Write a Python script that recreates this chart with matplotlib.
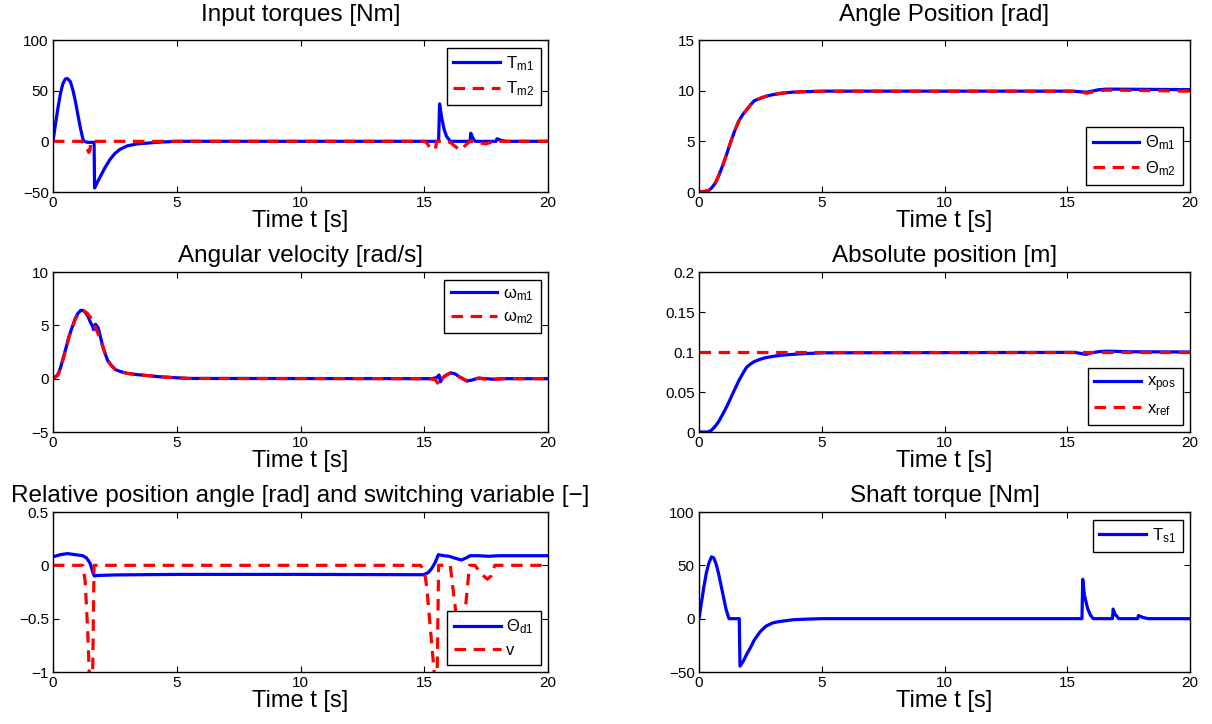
import numpy as np
import matplotlib
matplotlib.use('Agg')
import matplotlib.pyplot as plt
from matplotlib.ticker import FuncFormatter

plt.rcParams['font.family'] = ['Liberation Sans', 'DejaVu Sans']
plt.rcParams['mathtext.fontset'] = 'custom'
plt.rcParams['mathtext.rm'] = 'Liberation Sans'

# ---- data ----
# input torques
t_tm1 = [0, 0.1, 0.2, 0.3, 0.4, 0.5, 0.58, 0.7, 0.8, 0.9, 1.0, 1.1, 1.2, 1.25, 1.4, 1.66, 1.68,
         1.8, 1.95, 2.1, 2.3, 2.5, 2.7, 3.0, 3.4, 3.8, 4.3, 5.0, 15.58, 15.62, 15.7, 15.8, 15.9,
         16.05, 16.85, 16.88, 16.95, 17.05, 17.9, 17.94, 18.1, 18.3, 20]
T_m1 = [0, 17, 33, 47, 57, 61.5, 62, 59, 51, 40, 27, 14, 3, 0, -1, -1, -46,
        -40, -33, -26, -18, -12, -8, -4.5, -2.5, -1.8, -0.8, 0, 0, 37, 24, 12, 5,
        0, 0, 8, 4, 0, 0, 2.5, 1, 0, 0]
t_tm2 = [0, 1.15, 1.25, 1.35, 1.45, 1.5, 1.52, 15.0, 15.1, 15.2, 15.35, 15.45, 15.5, 15.95,
         16.1, 16.3, 16.45, 16.55, 16.7, 16.85, 17.2, 17.5, 17.8, 20]
T_m2 = [0, 0, -2, -6, -11, -8, 0, 0, -1.5, -5, -8, -8, 0, 0,
        -2, -6, -8.5, -7, -3, 0, -1.5, -2.5, 0, 0]

# angle position
t_th = [0, 0.35, 0.5, 0.67, 0.8, 0.98, 1.15, 1.3, 1.45, 1.62, 1.8, 1.94, 2.1, 2.25, 2.5, 2.73,
        3.0, 3.37, 3.8, 4.3, 5.1, 15.2, 15.5, 15.8, 16.0, 16.3, 16.6, 17.0, 20]
th_m1 = [0, 0.1, 0.35, 0.9, 1.6, 2.7, 3.9, 5.0, 6.0, 7.0, 7.7, 8.1, 8.6, 9.0, 9.25, 9.45,
         9.6, 9.75, 9.85, 9.9, 9.95, 9.95, 9.9, 9.85, 9.95, 10.1, 10.15, 10.15, 10.1]
th_m2 = [0, 0.1, 0.35, 0.9, 1.6, 2.7, 3.9, 5.0, 6.0, 7.0, 7.7, 8.1, 8.6, 9.0, 9.25, 9.45,
         9.6, 9.75, 9.85, 9.9, 9.95, 9.95, 9.9, 9.75, 9.85, 10.0, 10.05, 10.05, 9.95]

# angular velocity
t_w1 = [0, 0.19, 0.3, 0.42, 0.55, 0.65, 0.8, 0.89, 1.0, 1.12, 1.22, 1.31, 1.42, 1.51, 1.6,
        1.64, 1.68, 1.72, 1.82, 1.9, 1.98, 2.1, 2.21, 2.35, 2.52, 2.75, 2.99, 3.4, 3.77, 4.3,
        4.86, 5.5, 15.3, 15.5, 15.6, 15.65, 15.75, 15.9, 16.07, 16.25, 16.4, 16.55, 16.7, 16.9,
        17.2, 17.5, 17.8, 18.2, 20]
w_m1 = [0, 0.36, 1.0, 2.0, 3.1, 4.0, 5.0, 5.6, 6.1, 6.4, 6.4, 6.2, 5.8, 5.3, 4.9,
        4.6, 5.0, 5.1, 4.8, 4.1, 3.3, 2.4, 1.7, 1.25, 0.85, 0.65, 0.5, 0.38, 0.3, 0.18,
        0.1, 0.02, 0, 0.1, 0.35, -0.3, 0.1, 0.35, 0.55, 0.45, 0.2, 0, -0.2, -0.15,
        0.05, 0, -0.05, 0, 0]
t_w2 = [0, 0.19, 0.3, 0.42, 0.55, 0.65, 0.8, 0.89, 1.0, 1.12, 1.25, 1.38, 1.5, 1.62, 1.75,
        1.88, 1.98, 2.1, 2.21, 2.35, 2.52, 2.75, 2.99, 3.4, 3.77, 4.3, 4.86, 5.5, 15.2, 15.45,
        15.6, 15.65, 15.75, 15.9, 16.07, 16.25, 16.4, 16.55, 16.75, 16.9, 17.2, 17.6, 17.9,
        18.2, 20]
w_m2 = [0, 0.3, 0.9, 1.9, 3.0, 3.9, 4.9, 5.5, 6.0, 6.3, 6.35, 6.15, 5.8, 5.3, 4.6,
        3.9, 3.2, 2.4, 1.7, 1.25, 0.85, 0.65, 0.5, 0.38, 0.3, 0.18, 0.1, 0.02, 0, -0.1,
        -0.6, -0.2, 0.1, 0.35, 0.55, 0.45, 0.2, 0, -0.25, -0.1, 0.05, -0.1, -0.05,
        0, 0]

# absolute position
t_x = [0, 0.35, 0.5, 0.67, 0.8, 0.98, 1.15, 1.3, 1.45, 1.62, 1.8, 1.94, 2.1, 2.25, 2.5, 2.73,
       3.0, 3.37, 3.8, 4.3, 5.1, 15.3, 15.5, 15.75, 16.0, 16.3, 16.6, 17.0, 17.5, 20]
x_pos = [0, 0, 0.002, 0.0075, 0.013, 0.023, 0.033, 0.043, 0.053, 0.064, 0.074, 0.081, 0.085,
         0.088, 0.091, 0.093, 0.0945, 0.096, 0.097, 0.098, 0.099, 0.0995, 0.0985, 0.097,
         0.099, 0.1005, 0.101, 0.1008, 0.1003, 0.1]
t_ref = [0, 20]
x_ref = [0.1, 0.1]

# relative position angle / switching variable
t_thd = [0, 0.3, 0.58, 0.9, 1.2, 1.35, 1.5, 1.6, 1.67, 1.8, 2.5, 5, 10, 14.96, 15.15, 15.3,
         15.45, 15.57, 15.8, 16.0, 16.2, 16.5, 16.7, 16.85, 17.2, 17.6, 18.0, 20]
th_d1 = [0.08, 0.1, 0.11, 0.1, 0.09, 0.07, 0.02, -0.06, -0.1, -0.095, -0.09, -0.085, -0.085,
         -0.088, -0.07, -0.03, 0.03, 0.1, 0.09, 0.085, 0.07, 0.05, 0.07, 0.09, 0.09, 0.085,
         0.09, 0.09]
t_v = [0, 1.2, 1.3, 1.4, 1.47, 1.6, 1.66, 14.85, 15.0, 15.1, 15.25, 15.42, 15.52, 15.58,
       16.05, 16.28, 16.45, 16.55, 16.66, 16.83, 17.05, 17.3, 17.55, 17.7, 17.85, 20]
v_sw = [0, 0, -0.15, -0.6, -1.05, -1.05, 0, 0, -0.05, -0.2, -0.6, -1.05, -1.05, 0,
        0, -0.45, -0.8, -0.8, -0.41, 0, 0, -0.08, -0.13, -0.1, 0, 0]

# shaft torque
t_ts = [0, 0.1, 0.2, 0.3, 0.4, 0.51, 0.6, 0.7, 0.8, 0.9, 1.0, 1.1, 1.22, 1.64, 1.67, 1.8, 1.95,
        2.1, 2.25, 2.5, 2.73, 3.0, 3.2, 3.5, 3.84, 4.3, 5.0, 15.6, 15.63, 15.7, 15.83, 15.95,
        16.06, 16.84, 16.87, 16.95, 17.1, 17.87, 17.9, 18.1, 18.3, 20]
T_s1 = [0, 15, 30, 43, 52, 58, 57, 51, 42, 31, 20, 9, 0, 0, -44.5, -40, -33,
        -27, -20, -12, -7, -4, -3, -2, -1, -0.5, 0, 0, 37, 22, 9.5, 3,
        0, 0, 9, 4, 0, 0, 3, 1, 0, 0]

# ---- figure ----
W, H = 1212, 724
fig = plt.figure(figsize=(W / 100, H / 100), dpi=100)

def box(x0, y0, x1, y1):
    return [x0 / W, 1 - y1 / H, (x1 - x0) / W, (y1 - y0) / H]

fmt = FuncFormatter(lambda v, p: ('%g' % v).replace('-', '\u2212'))

def setup(ax, title, ylim, yticks, legloc, tpad=7):
    ax.set_xlim(0, 20)
    ax.set_xticks([0, 5, 10, 15, 20])
    ax.set_ylim(*ylim)
    ax.set_yticks(yticks)
    ax.yaxis.set_major_formatter(fmt)
    ax.tick_params(direction='in', top=True, right=True, length=4, width=0.8,
                   labelsize=11, pad=3)
    for s in ax.spines.values():
        s.set_linewidth(1.0)
    ax.set_title(title, fontsize=17.5, pad=tpad)
    ax.set_xlabel('Time t [s]', fontsize=17, labelpad=0)
    leg = ax.legend(loc=legloc, fontsize=12, handlelength=2.8, labelspacing=0.4,
                    fancybox=False, framealpha=1, edgecolor='black',
                    borderpad=0.4, handletextpad=0.35, borderaxespad=0.45)
    leg.get_frame().set_linewidth(1.0)

lw = 2.3
dash = (3.6, 2.4)

ax1 = fig.add_axes(box(53, 40, 548, 192))
ax1.plot(t_tm1, T_m1, color='blue', lw=lw, label=r'$\mathregular{T_{m1}}$')
ax1.plot(t_tm2, T_m2, color='red', lw=lw, dashes=dash, label=r'$\mathregular{T_{m2}}$')
setup(ax1, 'Input torques [Nm]', (-50, 100), [-50, 0, 50, 100], 'upper right', tpad=14)

ax2 = fig.add_axes(box(699, 40, 1190, 192))
ax2.plot(t_th, th_m1, color='blue', lw=lw, label=r'$\mathregular{\Theta_{m1}}$')
ax2.plot(t_th, th_m2, color='red', lw=lw, dashes=dash, label=r'$\mathregular{\Theta_{m2}}$')
setup(ax2, 'Angle Position [rad]', (0, 15), [0, 5, 10, 15], 'lower right', tpad=14)

ax3 = fig.add_axes(box(53, 272, 548, 432))
ax3.plot(t_w1, w_m1, color='blue', lw=lw, label=r'$\mathregular{ω_{m1}}$')
ax3.plot(t_w2, w_m2, color='red', lw=lw, dashes=dash, label=r'$\mathregular{ω_{m2}}$')
setup(ax3, 'Angular velocity [rad/s]', (-5, 10), [-5, 0, 5, 10], 'upper right')

ax4 = fig.add_axes(box(699, 272, 1190, 432))
ax4.plot(t_x, x_pos, color='blue', lw=lw, label=r'$\mathregular{x_{pos}}$')
ax4.plot(t_ref, x_ref, color='red', lw=lw, dashes=dash, label=r'$\mathregular{x_{ref}}$')
setup(ax4, 'Absolute position [m]', (0, 0.2), [0, 0.05, 0.1, 0.15, 0.2], 'lower right')

ax5 = fig.add_axes(box(53, 512, 548, 672))
ax5.plot(t_thd, th_d1, color='blue', lw=lw, label=r'$\mathregular{\Theta_{d1}}$')
ax5.plot(t_v, v_sw, color='red', lw=lw, dashes=dash, label='v')
setup(ax5, 'Relative position angle [rad] and switching variable [\u2212]', (-1, 0.5),
      [-1, -0.5, 0, 0.5], 'lower right')

ax6 = fig.add_axes(box(699, 512, 1190, 672))
ax6.plot(t_ts, T_s1, color='blue', lw=lw, label=r'$\mathregular{T_{s1}}$')
setup(ax6, 'Shaft torque [Nm]', (-50, 100), [-50, 0, 50, 100], 'upper right')

fig.savefig('out.png', dpi=100)
